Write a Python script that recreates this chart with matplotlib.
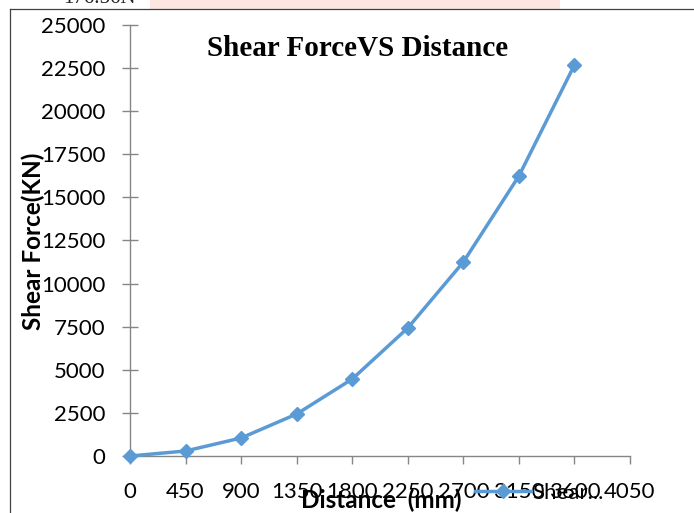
import matplotlib.pyplot as plt
from matplotlib.lines import Line2D
from matplotlib.patches import Rectangle

# data
distance_labels = ["0", "450", "900", "1350", "1800", "2250", "2700", "3150", "3600", "4050"]
shear_force = [0, 290, 1045, 2435, 4465, 7425, 11250, 16240, 22680]
y_ticks = [0, 2500, 5000, 7500, 10000, 12500, 15000, 17500, 20000, 22500, 25000]

W, H = 694, 513
line_color = "#5B9BD5"
axis_color = "#868686"
tick_font = "Lato"
tick_size = 16

fig = plt.figure(figsize=(W / 100, H / 100), dpi=100)
ax = fig.add_axes([130 / W, (H - 456) / H, 500 / W, 431 / H])

x = list(range(len(shear_force)))
ax.plot(x, shear_force, color=line_color, lw=2.5, marker="D", ms=7.5,
        solid_joinstyle="round", clip_on=False, zorder=3)

ax.set_xlim(0, len(distance_labels) - 1)
ax.set_ylim(0, 25000)
ax.set_xticks(range(len(distance_labels)))
ax.set_xticklabels(distance_labels)
ax.set_yticks(y_ticks)
ax.set_yticklabels([str(v) for v in y_ticks])

for side in ("top", "right"):
    ax.spines[side].set_visible(False)
for side in ("left", "bottom"):
    ax.spines[side].set_color(axis_color)
    ax.spines[side].set_linewidth(1.0)

ax.tick_params(axis="y", direction="inout", length=11.5, width=1, color=axis_color,
               pad=12, labelsize=tick_size)
ax.tick_params(axis="x", direction="out", length=6, width=1, color=axis_color,
               pad=13, labelsize=tick_size)
for lab in ax.get_xticklabels() + ax.get_yticklabels():
    lab.set_fontfamily(tick_font)

# title inside the plot area
fig.text(358 / W, 1 - 48 / H, "Shear ForceVS Distance", family="Liberation Serif",
         weight="bold", fontsize=21, ha="center", va="center")

# axis titles
fig.text(33 / W, 1 - 241 / H, "Shear Force(KN)", family=tick_font, weight="bold",
         fontsize=17.5, rotation=90, ha="center", va="center")
fig.text(381 / W, 1 - 500 / H, "Distance  (mm)", family=tick_font, weight="bold",
         fontsize=17.5, ha="center", va="center")

# legend overlapping the tick labels, like the source
fig.legend(handles=[Line2D([], [], color=line_color, lw=2.5, marker="D", ms=7.5)],
           labels=["Shear..."], loc="center left",
           bbox_to_anchor=(475 / W, 1 - 493 / H), frameon=False,
           handlelength=2.5, handletextpad=0.1, borderpad=0, borderaxespad=0,
           prop={"family": tick_font, "size": tick_size})

# strip of the page above the chart
fig.add_artist(Rectangle((150 / W, 1 - 9 / H), 410 / W, 9 / H,
                         transform=fig.transFigure, color="#FDE6E1", lw=0, zorder=0))
fig.text(63 / W, 1 - 3 / H, "176.56N", family="Liberation Serif", fontsize=15,
         ha="left", va="baseline", color="#202020")

# chart border
fig.add_artist(Line2D([10 / W, 10 / W], [0, 1 - 9 / H], color="#404040", lw=0.9))
fig.add_artist(Line2D([10 / W, 1], [1 - 9 / H, 1 - 9 / H], color="#404040", lw=0.9))

fig.savefig("out.png", dpi=100)
